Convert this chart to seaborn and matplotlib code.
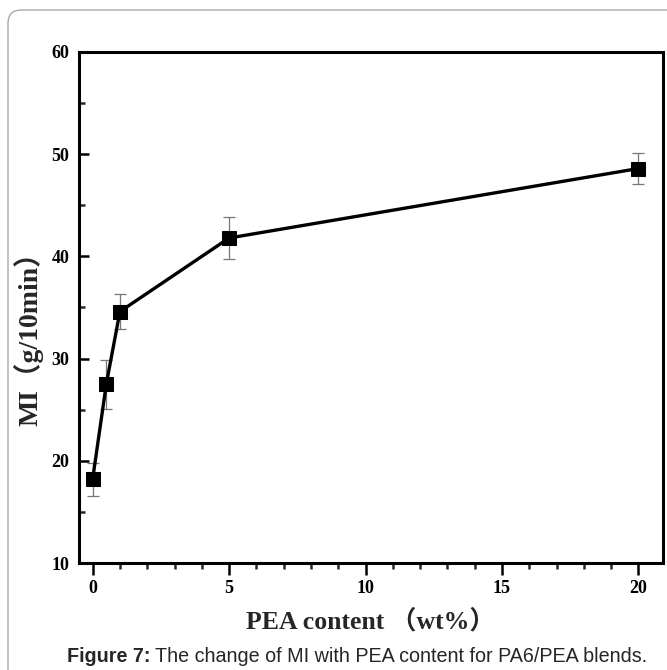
import matplotlib
matplotlib.use("Agg")
import matplotlib.pyplot as plt
from matplotlib.patches import FancyBboxPatch
from matplotlib.ticker import MultipleLocator
import seaborn as sns
import pandas as pd

# PEA content (wt%) and melt index (g/10min) with standard deviations
pea_content = [0, 0.5, 1, 5, 20]
mi_values = [18.2, 27.5, 34.6, 41.8, 48.6]
mi_error = [1.6, 2.4, 1.7, 2.1, 1.5]

x_ticks = [0, 5, 10, 15, 20]
y_ticks = [10, 20, 30, 40, 50, 60]

df = pd.DataFrame({"PEA": pea_content, "MI": mi_values, "err": mi_error})

sns.set_theme(style="white")
plt.rcParams["font.family"] = ["Liberation Serif", "Noto Sans CJK SC"]

fig = plt.figure(figsize=(6.67, 6.70), dpi=100)
ax = fig.add_axes([79 / 667, 1 - 563 / 670, (663 - 79) / 667, (563 - 52) / 670])

# outer frame of the figure panel
frame = FancyBboxPatch((8 / 667, -0.2), 1.2, (670 - 10) / 670 + 0.2,
                       boxstyle="round,pad=0,rounding_size=0.02",
                       transform=fig.transFigure, facecolor="none",
                       edgecolor="#a8a8a8", linewidth=1.0, zorder=0)
fig.patches.append(frame)

ax.errorbar(df["PEA"], df["MI"], yerr=df["err"], fmt="none",
            ecolor="#777777", elinewidth=0.9, capsize=4, capthick=0.9, zorder=2)
sns.lineplot(data=df, x="PEA", y="MI", ax=ax, color="black", linewidth=2.4,
             marker="s", markersize=9.5, markeredgecolor="black",
             markerfacecolor="black", zorder=3)

ax.set_xlim(-0.5, 20.9)
ax.set_ylim(10, 60)
ax.set_xticks(x_ticks)
ax.set_yticks(y_ticks)
ax.xaxis.set_minor_locator(MultipleLocator(1))
ax.yaxis.set_minor_locator(MultipleLocator(5))

for sp in ax.spines.values():
    sp.set_linewidth(2.2)
    sp.set_color("black")

ax.tick_params(axis="x", which="major", direction="out", length=8.5, width=1.8,
               bottom=True, top=False, pad=4, labelsize=13, colors="black")
ax.tick_params(axis="x", which="minor", direction="out", length=4.5, width=1.8,
               bottom=True, top=False)
ax.tick_params(axis="y", which="major", direction="in", length=7, width=1.8,
               left=True, right=False, pad=7, labelsize=13, colors="black")
ax.tick_params(axis="y", which="minor", direction="in", length=4.5, width=1.8,
               left=True, right=False)
for lab in ax.get_xticklabels() + ax.get_yticklabels():
    lab.set_fontweight("bold")

ax.set_xlabel("PEA content （wt%）", fontsize=18.5, fontweight="bold", labelpad=8)
ax.set_ylabel("MI（g/10min）", fontsize=20, fontweight="bold")
ax.yaxis.set_label_coords(-0.06, 0.452)

cap_y = 1 - 657 / 670
t1 = fig.text(67 / 667, cap_y, "Figure 7:", fontsize=14.2, fontweight="bold",
              family="Liberation Sans", va="center", ha="left")
fig.canvas.draw()
bb = t1.get_window_extent()
fig.text(bb.x1 / fig.bbox.width + 0.006, cap_y,
         "The change of MI with PEA content for PA6/PEA blends.",
         fontsize=14.2, family="Liberation Sans", va="center", ha="left")

fig.savefig("out.png", dpi=100)
